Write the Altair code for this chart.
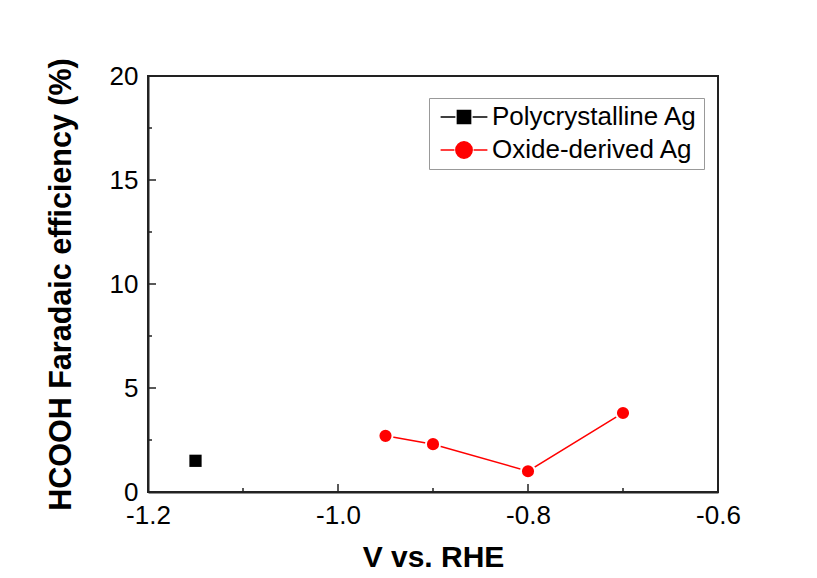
import altair as alt
import pandas as pd

# ---------------- data ----------------
series_names = ["Polycrystalline Ag", "Oxide-derived Ag"]
series_colors = ["#000000", "#ff0000"]
poly_v = [-1.15]
poly_fe = [1.5]
oxide_v = [-0.95, -0.90, -0.80, -0.70]
oxide_fe = [2.7, 2.3, 1.0, 3.8]
x_major = [-1.2, -1.0, -0.8, -0.6]
x_minor = [-1.1, -0.9, -0.7]
y_major = [0, 5, 10, 15, 20]
y_minor = [2.5, 7.5, 12.5, 17.5]
x_title = "V vs. RHE"
y_title = "HCOOH Faradaic efficiency (%)"

# ---------------- styling ----------------
W, H = 570, 416
FONT = "Liberation Sans"
FRAME = "#222222"

pts = pd.DataFrame({
    "v": poly_v + oxide_v,
    "fe": poly_fe + oxide_fe,
    "series": [series_names[0]] * len(poly_v) + [series_names[1]] * len(oxide_v),
})
poly = pts[pts.series == series_names[0]]
oxide = pts[pts.series == series_names[1]]

xscale = alt.Scale(domain=[-1.2, -0.6], nice=False, zero=False)
yscale = alt.Scale(domain=[0, 20], nice=False, zero=False)

minus_fix = "replace(format(datum.value, '.1f'), '\u2212', '-')"

xaxis = alt.Axis(values=x_major, labelExpr=minus_fix, ticks=False, grid=False,
                 domainColor=FRAME, domainWidth=2, labelFont=FONT, labelFontSize=26,
                 labelColor="black", labelPadding=10, labelFlush=False,
                 title=x_title, titleFont=FONT, titleFontSize=30, titleFontWeight="bold",
                 titleColor="black", titlePadding=14)
yaxis = alt.Axis(values=y_major, format="d", ticks=False, grid=False,
                 domainColor=FRAME, domainWidth=2, labelFont=FONT, labelFontSize=26,
                 labelColor="black", labelPadding=10, labelFlush=False,
                 title=y_title, titleFont=FONT, titleFontSize=30.5, titleFontWeight="bold",
                 titleColor="black", titlePadding=33)

X = alt.X("v:Q", scale=xscale, axis=xaxis)
Y = alt.Y("fe:Q", scale=yscale, axis=yaxis)

line = alt.Chart(oxide).mark_line(color="#ff0000", strokeWidth=1.5).encode(x=X, y=Y)
poly_pts = alt.Chart(poly).mark_point(shape="square", filled=True, size=150,
                                      color="black", opacity=1).encode(x=X, y=Y)
oxide_pts = alt.Chart(oxide).mark_point(shape="circle", filled=True, size=200,
                                        fill="#ff0000", stroke="white", strokeWidth=2,
                                        opacity=1).encode(x=X, y=Y)

# legend (symbols: line + marker)
legend_paths = [
    "M-1.95,0H-0.72M0.72,0H1.95M-0.55,-0.55H0.55V0.55H-0.55Z",
    "M-1.95,0H-0.8M0.8,0H1.95M0.68,0A0.68,0.68,0,1,1,-0.68,0A0.68,0.68,0,1,1,0.68,0Z",
]
leg_def = alt.Legend(orient="none", legendX=281, legendY=22, title=None,
                     padding=6, strokeColor="#999999", rowPadding=7,
                     symbolSize=576, symbolStrokeWidth=1.5, symbolOpacity=1,
                     symbolOffset=16, labelOffset=15,
                     labelFont=FONT, labelFontSize=26, labelColor="black",
                     labelLimit=500)
leg = alt.Chart(pts).transform_filter("false").mark_point(
    filled=True, opacity=1, strokeWidth=1.5).encode(
    x=X, y=Y,
    fill=alt.Fill("series:N", scale=alt.Scale(domain=series_names, range=series_colors), legend=leg_def),
    stroke=alt.Stroke("series:N", scale=alt.Scale(domain=series_names, range=series_colors), legend=leg_def),
    shape=alt.Shape("series:N", scale=alt.Scale(domain=series_names, range=legend_paths), legend=leg_def),
)

# inward ticks
def xticks(vals, length):
    return alt.Chart(pd.DataFrame({"v": vals})).mark_rule(color=FRAME, strokeWidth=1.5).encode(
        x=X, y=alt.value(H), y2=alt.value(H - length))

def yticks(vals, length):
    return alt.Chart(pd.DataFrame({"fe": vals})).mark_rule(color=FRAME, strokeWidth=1.5).encode(
        y=Y, x=alt.value(0), x2=alt.value(length))

chart = alt.layer(
    xticks(x_major, 8), xticks(x_minor, 4), yticks(y_major, 8), yticks(y_minor, 4),
    line, poly_pts, oxide_pts, leg,
).properties(
    width=W, height=H,
    autosize=alt.AutoSizeParams(type="none"),
    padding={"left": 140, "top": 68, "right": 80, "bottom": 77},
    background="white",
).configure_view(stroke=FRAME, strokeWidth=2)

chart.save("out.html", embed_options={"renderer": "svg", "actions": False})
